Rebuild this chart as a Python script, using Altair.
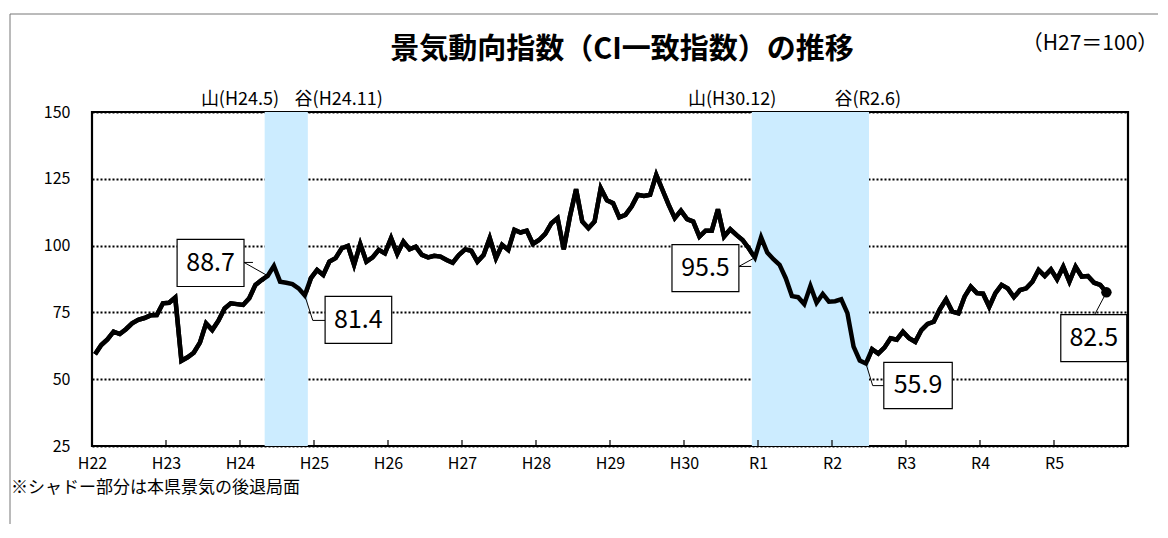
import altair as alt
import pandas as pd

# monthly CI coincident index, Jan 2010 (H22.1) .. Sep 2023 (R5.9)
values = [
    59.3, 62.8, 64.9, 67.8, 66.9, 68.7, 70.9, 72.2, 72.9, 73.9, 74.0, 78.4,
    78.6, 80.6, 56.9, 58.2, 59.9, 63.7, 70.9, 68.4, 71.9, 76.5, 78.4, 78.1,
    77.8, 80.3, 85.3, 87.1, 88.7, 92.4, 86.5, 86.1, 85.6, 84.0, 81.4, 87.8,
    90.9, 89.0, 94.0, 95.3, 99.0, 99.9, 92.8, 100.6, 94.0, 95.6, 98.4, 97.1,
    102.8, 96.9, 101.5, 98.6, 99.6, 96.5, 95.6, 96.2, 95.9, 94.6, 93.6, 96.5,
    98.6, 98.1, 94.0, 96.5, 102.8, 95.3, 100.3, 98.4, 105.9, 104.9, 105.6, 100.6,
    102.1, 104.4, 108.4, 110.3, 98.6, 110.9, 121.1, 109.0, 106.5, 109.0, 121.5, 117.0,
    115.9, 110.6, 111.5, 114.6, 119.0, 118.6, 119.0, 126.5, 120.9, 115.3, 110.3, 113.1,
    109.9, 109.0, 103.4, 105.6, 105.6, 113.6, 103.4, 106.1, 104.0, 102.1, 99.0, 95.5,
    103.1, 97.4, 94.9, 92.8, 87.8, 81.1, 80.7, 78.1, 84.9, 78.6, 81.9, 79.0,
    79.2, 79.9, 74.7, 62.2, 57.0, 55.9, 61.2, 59.6, 61.8, 65.3, 64.8, 67.8,
    65.3, 64.0, 68.4, 70.7, 71.5, 76.2, 79.9, 75.3, 74.7, 80.9, 84.6, 82.2,
    82.0, 77.1, 82.2, 85.3, 84.0, 80.7, 83.4, 84.0, 86.5, 90.9, 88.6, 91.1,
    87.4, 92.1, 86.5, 92.1, 88.4, 88.6, 86.1, 85.3, 82.5,
]
year_labels = ["H22", "H23", "H24", "H25", "H26", "H27", "H28", "H29", "H30",
               "R1", "R2", "R3", "R4", "R5"]

# recession shading: peak month index .. trough month index
band_peak = [28, 107]
band_trough = [34, 125]

band_texts = ["山(H24.5)", "谷(H24.11)", "山(H30.12)", "谷(R2.6)"]
band_text_x = [24.0, 40.0, 103.8, 125.8]

# labelled values and placement of their boxes (month units / index units)
label_text = ["88.7", "81.4", "95.5", "55.9", "82.5"]
label_month = [28, 34, 107, 125, 164]
box_x0 = [13.8, 37.8, 94.05, 128.4, 157.1]
box_x1 = [24.65, 48.6, 104.9, 139.5, 167.8]
box_y0 = [102.3, 81.0, 100.4, 56.3, 74.2]
box_y1 = [84.7, 63.4, 82.8, 39.0, 56.6]
# leader bend points (month, value)
lead_bend = [[(24.65, 93.7), (26.1, 93.7)],
             [(35.8, 72.0), (37.8, 72.0)],
             [(104.9, 92.2), (106.9, 92.2)],
             [(126.6, 47.6), (128.4, 47.6)],
             [(162.6, 74.2)]]

W, H = 1036, 334
FONT = "Noto Sans CJK JP"

df = pd.DataFrame({"m": [i + 0.5 for i in range(len(values))], "v": values})

xs = alt.Scale(domain=[0, 168], nice=False, zero=False)
ys = alt.Scale(domain=[25, 150], nice=False, zero=False)

label_expr = "[" + ",".join("'%s'" % s for s in year_labels) + "][round(datum.value/12)]"
x_axis = alt.Axis(values=list(range(0, 168, 12)), labelExpr=label_expr,
                  grid=False, ticks=False, domain=False, labelFlush=False,
                  labelOverlap=False, labelFontSize=16, labelPadding=9,
                  labelColor="black", labelFont=FONT, title=None)
y_axis = alt.Axis(values=[25, 50, 75, 100, 125, 150], grid=True,
                  gridColor="black", gridDash=[2, 2], gridWidth=2,
                  ticks=False, domain=False, labelFontSize=16,
                  labelPadding=22, labelColor="black", labelFont=FONT, title=None)


def X(f):
    return alt.X(f, scale=xs, axis=x_axis, title=None)


def Y(f):
    return alt.Y(f, scale=ys, axis=y_axis, title=None)


line = alt.Chart(df).mark_line(color="black", strokeWidth=4.5).encode(
    x=X("m:Q"), y=Y("v:Q"))

bands_df = pd.DataFrame({"a": band_peak, "b": [t + 1 for t in band_trough]})
bands = alt.Chart(bands_df).mark_rect(color="#CCECFF").encode(
    x=X("a:Q"), x2="b:Q", y=alt.value(0), y2=alt.value(H))

ticks_df = pd.DataFrame({"t": list(range(12, 168, 12))})
ticks = alt.Chart(ticks_df).mark_rule(color="black", strokeWidth=1.2).encode(
    x=X("t:Q"), y=alt.value(H), y2=alt.value(H - 6))

last = pd.DataFrame({"m": [label_month[-1] + 0.5], "v": [values[label_month[-1]]]})
dot = alt.Chart(last).mark_circle(color="black", opacity=1, size=110).encode(
    x=X("m:Q"), y=Y("v:Q"))

rows = []
for k, mi in enumerate(label_month):
    pts = [(mi + 0.5, values[mi])] + lead_bend[k]
    for j, (px, py) in enumerate(pts):
        rows.append({"g": k, "o": j, "m": px, "v": py})
lead_df = pd.DataFrame(rows)
leaders = alt.Chart(lead_df).mark_line(color="black", strokeWidth=1).encode(
    x=X("m:Q"), y=Y("v:Q"), detail="g:N", order="o:Q")

box_df = pd.DataFrame({"t": label_text, "m": box_x0, "m2": box_x1,
                       "v": box_y0, "v2": box_y1})
box_df["cm"] = (box_df.m + box_df.m2) / 2
box_df["cv"] = (box_df.v + box_df.v2) / 2
boxes = alt.Chart(box_df).mark_rect(fill="white", stroke="black", strokeWidth=1.2).encode(
    x=X("m:Q"), x2="m2:Q", y=Y("v:Q"), y2="v2:Q")
box_text = alt.Chart(box_df).mark_text(fontSize=25, font=FONT, color="black",
                                       align="center", baseline="middle").encode(
    x=X("cm:Q"), y=Y("cv:Q"), text="t:N")

bt_df = pd.DataFrame({"t": band_texts, "m": band_text_x})
band_lab = alt.Chart(bt_df).mark_text(fontSize=18, font=FONT, color="black",
                                      align="center", baseline="middle").encode(
    x=X("m:Q"), y=alt.value(-12), text="t:N")

one = pd.DataFrame({"a": [0]})
title = alt.Chart(one).mark_text(text="景気動向指数（CI一致指数）の推移", fontSize=29,
                                 fontWeight="bold", font=FONT, color="black",
                                 align="center", baseline="middle").encode(
    x=alt.value(530), y=alt.value(-62))
unit = alt.Chart(one).mark_text(text="（H27＝100）", fontSize=21, font=FONT,
                                color="black", align="center", baseline="middle").encode(
    x=alt.value(998), y=alt.value(-68))
note = alt.Chart(one).mark_text(text="※シャドー部分は本県景気の後退局面", fontSize=17,
                                font=FONT, color="black", align="left",
                                baseline="middle").encode(
    x=alt.value(-81), y=alt.value(376))
frame_top = alt.Chart(one).mark_rule(color="#777", strokeWidth=1).encode(
    x=alt.value(-82), x2=alt.value(1100), y=alt.value(-98))
frame_left = alt.Chart(one).mark_rule(color="#777", strokeWidth=1).encode(
    x=alt.value(-82), y=alt.value(-98), y2=alt.value(H + 100))

chart = alt.layer(
    line, bands, line, ticks, leaders, boxes, box_text, dot,
    band_lab, title, unit, note, frame_top, frame_left,
).properties(
    width=W, height=H,
    padding={"left": 84, "top": 104, "right": 30, "bottom": 78},
    autosize=alt.AutoSizeParams(type="none"),
).configure(font=FONT).configure_view(stroke="black", strokeWidth=2.2)

chart.save("out.html", embed_options={"renderer": "svg", "actions": False})
